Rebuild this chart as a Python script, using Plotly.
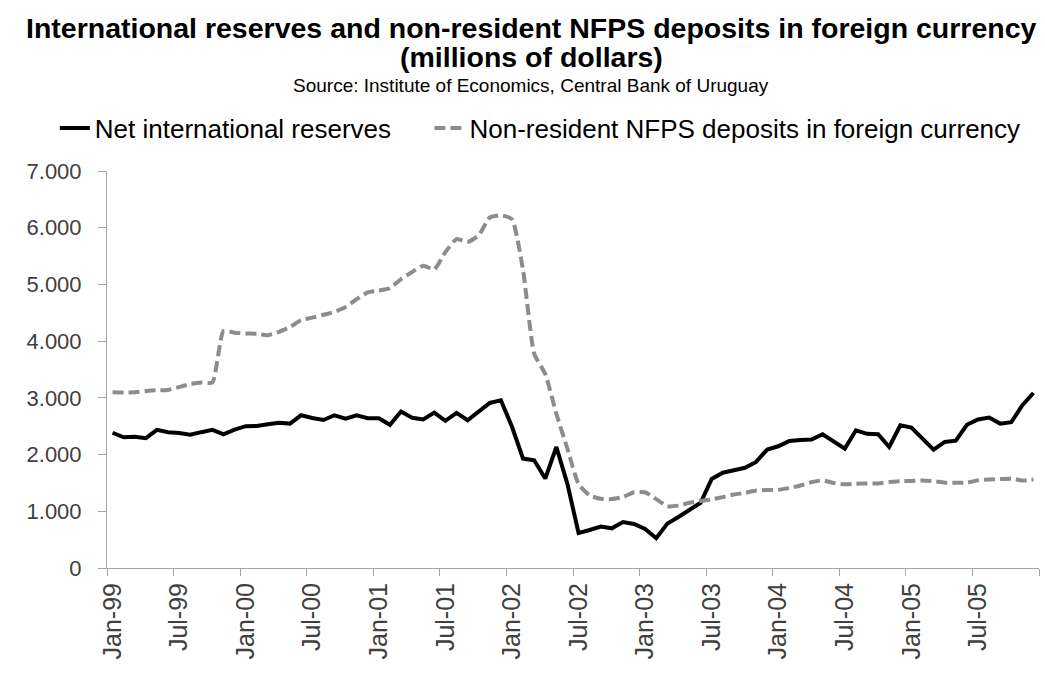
import plotly.graph_objects as go

# Monthly observations, Jan-1999 to Dec-2005
years = ["99", "00", "01", "02", "03", "04", "05"]
month_names = ["Jan", "Feb", "Mar", "Apr", "May", "Jun",
               "Jul", "Aug", "Sep", "Oct", "Nov", "Dec"]
months = [f"{m}-{y}" for y in years for m in month_names]

# Net international reserves (US$ millions)
net_reserves = [
    2385, 2305, 2315, 2290, 2435, 2395, 2380, 2350, 2395, 2435, 2358, 2440,
    2500, 2505, 2535, 2560, 2546, 2693, 2646, 2610, 2693, 2634, 2693, 2640,
    2640, 2525, 2758, 2650, 2620, 2740, 2595, 2734, 2605, 2752, 2910, 2958,
    2490, 1929, 1900, 1577, 2134, 1480, 617, 670, 730, 700, 811, 776,
    690, 525, 782, 900, 1030, 1150, 1570, 1680, 1723, 1767, 1870, 2088,
    2146, 2240, 2255, 2264, 2358, 2235, 2105, 2428, 2365, 2358, 2134, 2517,
    2476, 2282, 2088, 2223, 2245, 2525, 2620, 2652, 2546, 2570, 2870, 3086,
]

# Non-resident NFPS deposits in foreign currency (US$ millions)
nfps_deposits = [
    3100, 3095, 3100, 3120, 3135, 3140, 3190, 3245, 3270, 3270, 4180, 4150,
    4135, 4130, 4105, 4165, 4250, 4370, 4415, 4465, 4515, 4600, 4740, 4860,
    4890, 4935, 5095, 5220, 5330, 5265, 5570, 5800, 5750, 5865, 6180, 6220,
    6150, 5250, 3780, 3420, 2720, 2100, 1480, 1280, 1220, 1215, 1250, 1335,
    1335, 1215, 1090, 1100, 1150, 1180, 1210, 1250, 1295, 1325, 1365, 1375,
    1380, 1410, 1455, 1515, 1545, 1500, 1475, 1485, 1490, 1490, 1515, 1530,
    1535, 1545, 1530, 1505, 1505, 1505, 1545, 1560, 1570, 1575, 1545, 1560,
]

y_ticks = [0, 1000, 2000, 3000, 4000, 5000, 6000, 7000]

idx = list(range(len(months)))
label_idx = idx[::6]
label_text = [months[i] for i in label_idx]
boundaries = [i - 0.5 for i in range(0, len(months) + 1, 6)]

FONT = "Liberation Sans, Arial, sans-serif"
AXIS_GRAY = "#a6a6a6"
TICK_TEXT = "#404040"

fig = go.Figure()
fig.add_trace(go.Scatter(
    x=idx, y=net_reserves, mode="lines", name="Net international reserves",
    line=dict(color="#000000", width=4), legend="legend",
))
fig.add_trace(go.Scatter(
    x=idx, y=nfps_deposits, mode="lines",
    name="Non-resident NFPS deposits in foreign currency",
    line=dict(color="#8c8c8c", width=4, dash="11px,5px", shape="spline", smoothing=0.5),
    legend="legend2",
))

fig.update_layout(
    width=1045, height=674,
    margin=dict(l=107, r=6, t=171, b=106),
    paper_bgcolor="white", plot_bgcolor="white",
    separators=",.",
    font=dict(family=FONT, color="#000000"),
    showlegend=True,
    legend=dict(orientation="h", x=-0.056, xanchor="left", y=1.108, yanchor="middle",
                font=dict(size=26, family=FONT, color="#000000"),
                bgcolor="rgba(0,0,0,0)", itemwidth=30),
    legend2=dict(orientation="h", x=0.346, xanchor="left", y=1.108, yanchor="middle",
                 font=dict(size=26, family=FONT, color="#000000"),
                 bgcolor="rgba(0,0,0,0)", itemwidth=30),
    annotations=[
        dict(text="<b>International reserves and non-resident NFPS deposits in foreign currency</b>",
             xref="paper", yref="paper", x=0.455, y=1 + (171 - 28) / 397,
             xanchor="center", yanchor="middle", showarrow=False,
             font=dict(size=28.5, family=FONT, color="#000000")),
        dict(text="<b>(millions of dollars)</b>",
             xref="paper", yref="paper", x=0.455, y=1 + (171 - 57) / 397,
             xanchor="center", yanchor="middle", showarrow=False,
             font=dict(size=28.5, family=FONT, color="#000000")),
        dict(text="Source: Institute of Economics, Central Bank of Uruguay",
             xref="paper", yref="paper", x=0.455, y=1 + (171 - 86) / 397,
             xanchor="center", yanchor="middle", showarrow=False,
             font=dict(size=19, family=FONT, color="#000000")),
    ],
)

fig.update_xaxes(
    range=[-0.5, len(months) - 0.5],
    tickmode="array", tickvals=label_idx, ticktext=label_text,
    ticks="", tickangle=-90, ticklabelstandoff=4,
    tickfont=dict(size=25, family=FONT, color=TICK_TEXT),
    showline=True, linecolor=AXIS_GRAY, linewidth=1,
    showgrid=False, zeroline=False,
    minor=dict(tickmode="array", tickvals=boundaries, ticks="outside",
               ticklen=7, tickcolor=AXIS_GRAY, tickwidth=1, showgrid=False),
)
fig.update_yaxes(
    range=[0, 7000],
    tickmode="array", tickvals=y_ticks, tickformat=",d",
    ticks="outside", ticklen=8, tickcolor=AXIS_GRAY, tickwidth=1,
    ticklabelstandoff=12,
    tickfont=dict(size=22, family=FONT, color=TICK_TEXT),
    showline=True, linecolor=AXIS_GRAY, linewidth=1,
    showgrid=False, zeroline=False,
)

fig.write_html("out.html")
